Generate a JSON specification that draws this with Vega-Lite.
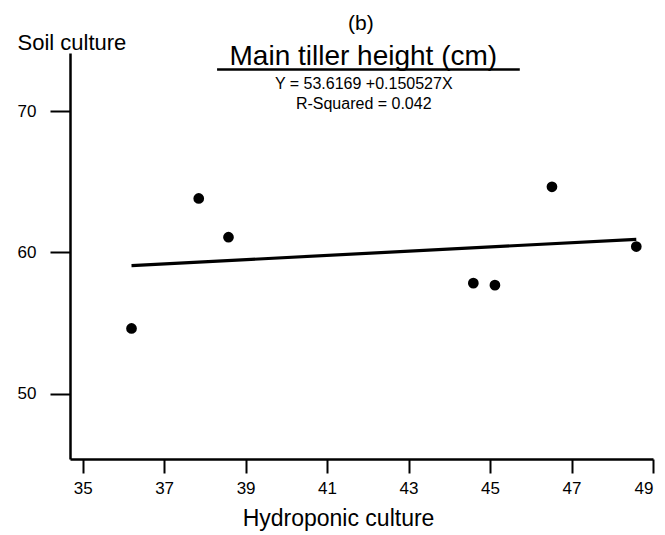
{
  "$schema": "https://vega.github.io/schema/vega-lite/v6.json",
  "width": 583,
  "height": 406,
  "autosize": {"type": "none"},
  "padding": {"left": 70, "top": 53, "right": 12, "bottom": 76},
  "background": "white",
  "config": {
    "view": {"stroke": null},
    "font": "Liberation Sans",
    "axis": {
      "grid": false,
      "domainColor": "black",
      "domainWidth": 2.5,
      "tickColor": "black",
      "tickWidth": 2,
      "labelColor": "black",
      "titleColor": "black",
      "labelFont": "Liberation Sans",
      "titleFont": "Liberation Sans",
      "titleFontWeight": "normal"
    }
  },
  "datasets": {
    "points": [
      {"hydro": 36.20, "soil": 54.63},
      {"hydro": 37.85, "soil": 63.82},
      {"hydro": 38.58, "soil": 61.08},
      {"hydro": 44.59, "soil": 57.83},
      {"hydro": 45.12, "soil": 57.69},
      {"hydro": 46.52, "soil": 64.64},
      {"hydro": 48.59, "soil": 60.42}
    ],
    "fit": [
      {"hydro": 36.20, "soil": 59.07},
      {"hydro": 48.59, "soil": 60.93}
    ]
  },
  "layer": [
    {
      "data": {"name": "points"},
      "mark": {"type": "point", "filled": true, "color": "black", "opacity": 1, "size": 115},
      "encoding": {
        "x": {
          "field": "hydro", "type": "quantitative",
          "scale": {"domain": [34.69, 49], "nice": false, "zero": false},
          "axis": {
            "title": "Hydroponic culture",
            "values": [35, 37, 39, 41, 43, 45, 47, 49],
            "tickSize": 14,
            "labelFontSize": 17,
            "labelPadding": 7,
            "titleFontSize": 23,
            "titlePadding": 11,
            "titleX": 268,
            "titleAlign": "center"
          }
        },
        "y": {
          "field": "soil", "type": "quantitative",
          "scale": {"domain": [45.4, 74.1], "nice": false, "zero": false},
          "axis": {
            "title": "Soil culture",
            "values": [50, 60, 70],
            "tickSize": 20,
            "labelFontSize": 17,
            "labelPadding": 14,
            "titleFontSize": 22,
            "titleAngle": 0,
            "titleAlign": "left",
            "titleBaseline": "alphabetic",
            "titleX": -53,
            "titleY": -4
          }
        }
      }
    },
    {
      "data": {"name": "fit"},
      "mark": {"type": "line", "color": "black", "strokeWidth": 3.2},
      "encoding": {
        "x": {"field": "hydro", "type": "quantitative"},
        "y": {"field": "soil", "type": "quantitative"}
      }
    },
    {
      "data": {"values": [{"label": "(b)"}]},
      "mark": {"type": "text", "fontSize": 21, "baseline": "alphabetic", "align": "center", "color": "black"},
      "encoding": {
        "x": {"datum": 41.83, "type": "quantitative"},
        "y": {"datum": 75.73, "type": "quantitative"},
        "text": {"field": "label"}
      }
    },
    {
      "data": {"values": [{"label": "Main tiller height (cm)"}]},
      "mark": {"type": "text", "fontSize": 28, "baseline": "alphabetic", "align": "center", "color": "black"},
      "encoding": {
        "x": {"datum": 41.89, "type": "quantitative"},
        "y": {"datum": 73.25, "type": "quantitative"},
        "text": {"field": "label"}
      }
    },
    {
      "data": {"values": [{"from": 38.30, "to": 45.73, "level": 72.93}]},
      "mark": {"type": "rule", "color": "black", "strokeWidth": 2.5},
      "encoding": {
        "x": {"field": "from", "type": "quantitative"},
        "x2": {"field": "to"},
        "y": {"field": "level", "type": "quantitative"}
      }
    },
    {
      "data": {"values": [{"label": "Y = 53.6169 +0.150527X"}]},
      "mark": {"type": "text", "fontSize": 16, "baseline": "alphabetic", "align": "center", "color": "black"},
      "encoding": {
        "x": {"datum": 41.90, "type": "quantitative"},
        "y": {"datum": 71.56, "type": "quantitative"},
        "text": {"field": "label"}
      }
    },
    {
      "data": {"values": [{"label": "R-Squared = 0.042"}]},
      "mark": {"type": "text", "fontSize": 16, "baseline": "alphabetic", "align": "center", "color": "black"},
      "encoding": {
        "x": {"datum": 41.90, "type": "quantitative"},
        "y": {"datum": 70.14, "type": "quantitative"},
        "text": {"field": "label"}
      }
    }
  ]
}
